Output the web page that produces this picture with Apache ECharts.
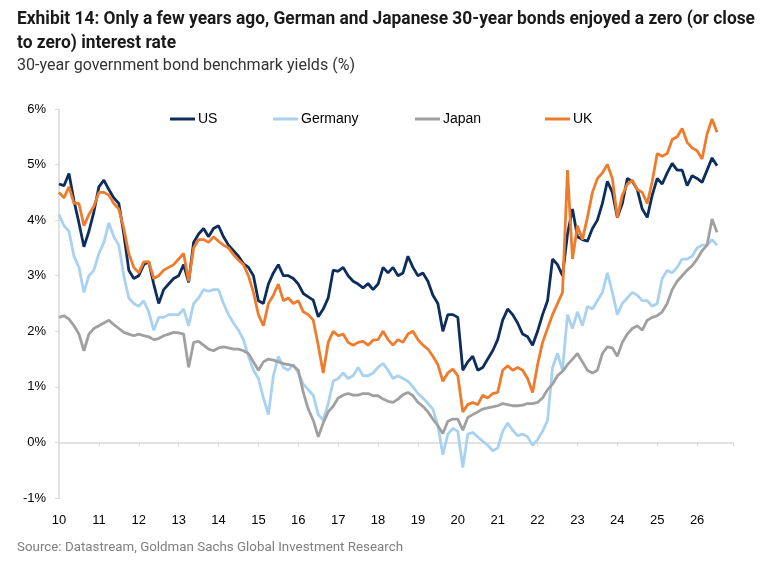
<!DOCTYPE html>
<html>
<head>
<meta charset="utf-8">
<script src="https://cdn.jsdelivr.net/npm/echarts@6/dist/echarts.min.js"></script>
<style>
  html, body { margin: 0; padding: 0; background: #fff; }
  #chart { width: 768px; height: 568px; }
</style>
</head>
<body>
<div id="chart"></div>
<script>
// readings every 1/8 of a year, starting Jan 2010
const startYear = 2010;
const step = 0.125;

const xTickLabels = ['10', '11', '12', '13', '14', '15', '16', '17', '18',
  '19', '20', '21', '22', '23', '24', '25', '26'];

// 30y benchmark yields, %
const us = [
  4.65, 4.62, 4.84, 4.35, 3.95, 3.52, 3.8, 4.15,
  4.6, 4.72, 4.55, 4.4, 4.3, 3.75, 3.1, 2.95,
  3.0, 3.2, 3.25, 2.85, 2.5, 2.75, 2.85, 2.95,
  3.0, 3.2, 2.88, 3.6, 3.75, 3.85, 3.7, 3.85,
  3.9, 3.7, 3.55, 3.45, 3.35, 3.22, 3.15, 3.0,
  2.55, 2.5, 2.85, 3.05, 3.2, 3.0, 3.0, 2.95,
  2.85, 2.68, 2.62, 2.56, 2.26, 2.4, 2.6, 3.1,
  3.08, 3.15, 3.0, 2.9, 2.85, 2.78, 2.86, 2.75,
  2.85, 3.15, 3.05, 3.15, 3.0, 3.05, 3.35, 3.15,
  3.0, 3.05, 2.9, 2.65, 2.5, 2.0, 2.3, 2.3,
  2.25, 1.3, 1.45, 1.55, 1.3, 1.35, 1.5, 1.65,
  1.85, 2.2, 2.4, 2.3, 2.15, 1.95, 1.9, 1.75,
  2.0, 2.3, 2.55, 3.3, 3.2, 3.0, 3.75, 4.2,
  3.7, 3.65, 3.62, 3.85, 4.0, 4.3, 4.7, 4.5,
  4.05, 4.3, 4.75, 4.7, 4.55, 4.2, 4.05, 4.45,
  4.75, 4.65, 4.85, 5.02, 4.9, 4.9, 4.62, 4.8,
  4.75, 4.68, 4.9, 5.12, 4.98
];

const germany = [
  4.1, 3.9, 3.8, 3.35, 3.15, 2.7, 3.0, 3.1,
  3.4, 3.6, 3.95, 3.7, 3.55, 3.0, 2.6, 2.5,
  2.45, 2.55, 2.35, 2.02, 2.25, 2.25, 2.3, 2.3,
  2.3, 2.4, 2.1, 2.5, 2.6, 2.75, 2.72, 2.75,
  2.75, 2.5, 2.3, 2.15, 2.02, 1.85, 1.55, 1.3,
  1.15, 0.8, 0.5, 1.2, 1.55, 1.35, 1.3, 1.4,
  1.25, 1.05, 0.95, 0.85, 0.5, 0.4, 0.7, 1.1,
  1.15, 1.25, 1.15, 1.2, 1.35, 1.2, 1.2, 1.25,
  1.35, 1.42, 1.3, 1.15, 1.2, 1.15, 1.1, 1.0,
  0.88, 0.8, 0.7, 0.6, 0.3, -0.22, 0.15, 0.25,
  0.2, -0.45, 0.15, 0.18, 0.1, 0.02, -0.05, -0.15,
  -0.1, 0.2, 0.35, 0.22, 0.12, 0.15, 0.1, -0.05,
  0.05, 0.2, 0.4, 1.35, 1.6, 1.3, 2.3, 2.05,
  2.35, 2.1, 2.45, 2.4, 2.55, 2.7, 3.05, 2.7,
  2.3, 2.5, 2.6, 2.7, 2.65, 2.55, 2.55, 2.45,
  2.5, 2.95, 3.1, 3.05, 3.15, 3.3, 3.3, 3.35,
  3.5, 3.55, 3.55, 3.65, 3.55
];

const japan = [
  2.25, 2.28, 2.22, 2.1, 1.95, 1.65, 1.95, 2.05,
  2.1, 2.15, 2.2, 2.12, 2.05, 1.98, 1.95, 1.92,
  1.95, 1.92, 1.9, 1.85, 1.87, 1.92, 1.95, 1.98,
  1.97, 1.95, 1.35, 1.8, 1.82, 1.75, 1.68, 1.65,
  1.7, 1.72, 1.7, 1.68, 1.68, 1.65, 1.6, 1.45,
  1.3, 1.45, 1.5, 1.48, 1.45, 1.42, 1.4, 1.38,
  1.3, 0.9, 0.6, 0.4, 0.1, 0.35, 0.55, 0.65,
  0.8, 0.85, 0.88, 0.85, 0.85, 0.88, 0.88, 0.84,
  0.84, 0.78, 0.74, 0.72, 0.78, 0.86, 0.9, 0.84,
  0.72, 0.65, 0.55, 0.42, 0.3, 0.16, 0.38, 0.42,
  0.42, 0.22, 0.45, 0.5, 0.55, 0.6, 0.62, 0.64,
  0.66, 0.7, 0.68, 0.66, 0.66, 0.67, 0.7, 0.7,
  0.72, 0.8, 0.95, 1.05, 1.2, 1.28, 1.4, 1.5,
  1.6, 1.45, 1.3, 1.25, 1.3, 1.6, 1.72, 1.7,
  1.55, 1.8, 1.95, 2.05, 2.1, 2.02, 2.2, 2.25,
  2.28, 2.35, 2.5, 2.75, 2.9, 3.0, 3.1, 3.18,
  3.3, 3.45, 3.55, 4.02, 3.78
];

const uk = [
  4.5, 4.4, 4.6, 4.3, 4.3, 3.9, 4.1, 4.25,
  4.5, 4.5, 4.45, 4.3, 4.2, 3.85, 3.4, 3.15,
  3.05, 3.25, 3.25, 2.95, 3.0, 3.1, 3.15, 3.2,
  3.3, 3.4, 2.9, 3.5, 3.65, 3.65, 3.6, 3.7,
  3.62, 3.55, 3.5, 3.38, 3.28, 3.2, 3.0, 2.7,
  2.3, 2.1, 2.5, 2.65, 2.85, 2.55, 2.6, 2.5,
  2.55, 2.35, 2.3, 2.2, 1.75, 1.25, 1.8, 2.0,
  1.92, 1.95, 1.8, 1.75, 1.8, 1.82, 1.75, 1.84,
  1.85, 2.0, 1.85, 1.75, 1.85, 1.8, 1.95, 2.0,
  1.85, 1.75, 1.68, 1.55, 1.4, 1.1, 1.25, 1.32,
  1.2, 0.55, 0.68, 0.72, 0.68, 0.85, 0.8, 0.88,
  0.9, 1.3, 1.38, 1.3, 1.35, 1.3, 1.15, 0.9,
  1.4, 1.8, 2.05, 2.3, 2.5, 2.7, 4.9, 3.3,
  3.9, 3.65, 4.05, 4.5, 4.75, 4.85, 5.0, 4.75,
  4.05, 4.45, 4.65, 4.72, 4.55, 4.5, 4.3, 4.7,
  5.2, 5.15, 5.2, 5.45, 5.5, 5.65, 5.4, 5.3,
  5.25, 5.1, 5.55, 5.82, 5.58
];

const dates = us.map((_, i) => startYear + i * step);
const pairs = vals => vals.map((v, i) => [dates[i], v]);

const title1 = 'Exhibit 14: Only a few years ago, German and Japanese 30-year bonds enjoyed a zero (or close';
const title2 = 'to zero) interest rate';
const subtitle = '30-year government bond benchmark yields (%)';
const source = 'Source: Datastream, Goldman Sachs Global Investment Research';

// squeeze a line of text to a target width, to get the condensed look
function fitScale(text, font, width) {
  const ctx = document.createElement('canvas').getContext('2d');
  ctx.font = font;
  return width / ctx.measureText(text).width;
}
const titleScale = fitScale(title1, 'bold 18px Roboto', 738);
const subScale = fitScale(subtitle, '16px Roboto', 338);
const srcScale = fitScale(source, '13px Roboto', 386);

const colors = { us: '#0D2D5C', germany: '#A9D2F1', japan: '#A0A0A0', uk: '#EF7B2C' };
const legendLeft = { US: 165, Germany: 268, Japan: 410, UK: 540 };

const chart = echarts.init(document.getElementById('chart'));
chart.setOption({
  animation: false,
  backgroundColor: '#fff',
  grid: { left: 59, right: 35, top: 109, bottom: 70 },
  graphic: [
    { type: 'text', x: 17, y: 19, scaleX: titleScale,
      style: { text: title1, fontFamily: 'Roboto', fontWeight: 'bold', fontSize: 18, fill: '#1a1a1a', verticalAlign: 'middle' } },
    { type: 'text', x: 17, y: 43, scaleX: titleScale,
      style: { text: title2, fontFamily: 'Roboto', fontWeight: 'bold', fontSize: 18, fill: '#1a1a1a', verticalAlign: 'middle' } },
    { type: 'text', x: 17, y: 66, scaleX: subScale,
      style: { text: subtitle, fontFamily: 'Roboto', fontSize: 16, fill: '#333', verticalAlign: 'middle' } },
    { type: 'text', x: 17, y: 548, scaleX: srcScale,
      style: { text: source, fontFamily: 'Roboto', fontSize: 13, fill: '#7f7f7f', verticalAlign: 'middle' } }
  ],
  legend: Object.keys(legendLeft).map(name => ({
    data: [name],
    left: legendLeft[name],
    top: 107,
    icon: 'rect',
    itemWidth: 25,
    itemHeight: 3,
    textStyle: { fontFamily: 'Liberation Sans', fontSize: 14, color: '#000', padding: [0, 0, 0, -2] }
  })),
  xAxis: [{
    type: 'value', min: 2010, max: 2026.9, interval: 1,
    axisLine: { show: false, onZero: false },
    axisTick: { show: false },
    splitLine: { show: false },
    axisLabel: {
      margin: 16, fontSize: 13, color: '#000', fontFamily: 'Liberation Sans',
      showMaxLabel: false,
      formatter: v => xTickLabels[Math.round(v - startYear)] || ''
    }
  }, {
    type: 'value', min: 2010, max: 2026.9, interval: 1, position: 'bottom',
    axisLine: { show: true, onZero: true, lineStyle: { color: '#d9d9d9', width: 1.5 } },
    axisTick: { show: true, length: 4, lineStyle: { color: '#d9d9d9' } },
    axisLabel: { show: false },
    splitLine: { show: false }
  }],
  yAxis: {
    type: 'value', min: -1, max: 6, interval: 1,
    axisLine: { show: true, onZero: false, lineStyle: { color: '#d9d9d9', width: 1.5 } },
    axisTick: { show: true, length: 4, lineStyle: { color: '#d9d9d9' } },
    splitLine: { show: false },
    axisLabel: { margin: 13, fontSize: 13, color: '#000', fontFamily: 'Liberation Sans', formatter: '{value}%' }
  },
  series: [
    { name: 'Germany', type: 'line', data: pairs(germany), color: colors.germany },
    { name: 'Japan', type: 'line', data: pairs(japan), color: colors.japan },
    { name: 'US', type: 'line', data: pairs(us), color: colors.us },
    { name: 'UK', type: 'line', data: pairs(uk), color: colors.uk }
  ].map(s => ({ ...s, showSymbol: false, lineStyle: { width: 2.8 } }))
});
</script>
</body>
</html>
